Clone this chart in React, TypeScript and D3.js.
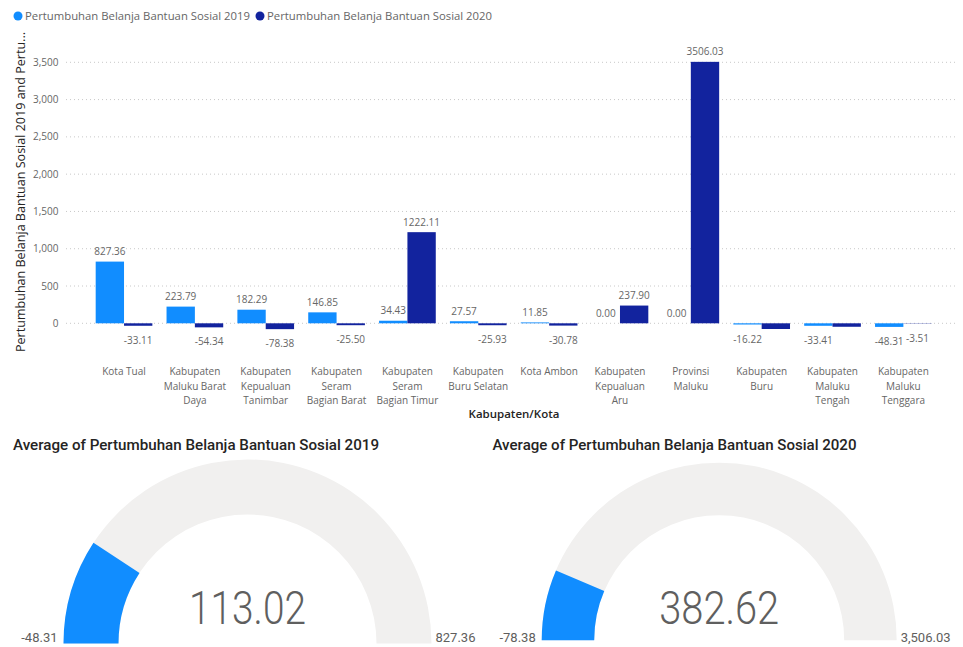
import React from "react";
import * as d3 from "d3";

const categories = [
  "Kota Tual",
  "Kabupaten Maluku Barat Daya",
  "Kabupaten Kepualuan Tanimbar",
  "Kabupaten Seram Bagian Barat",
  "Kabupaten Seram Bagian Timur",
  "Kabupaten Buru Selatan",
  "Kota Ambon",
  "Kabupaten Kepualuan Aru",
  "Provinsi Maluku",
  "Kabupaten Buru",
  "Kabupaten Maluku Tengah",
  "Kabupaten Maluku Tenggara",
];

const tickLabelLines = [
  ["Kota Tual"],
  ["Kabupaten", "Maluku Barat", "Daya"],
  ["Kabupaten", "Kepualuan", "Tanimbar"],
  ["Kabupaten", "Seram", "Bagian Barat"],
  ["Kabupaten", "Seram", "Bagian Timur"],
  ["Kabupaten", "Buru Selatan"],
  ["Kota Ambon"],
  ["Kabupaten", "Kepualuan", "Aru"],
  ["Provinsi", "Maluku"],
  ["Kabupaten", "Buru"],
  ["Kabupaten", "Maluku", "Tengah"],
  ["Kabupaten", "Maluku", "Tenggara"],
];

const values2019 = [827.36, 223.79, 182.29, 146.85, 34.43, 27.57, 11.85, 0.0, 0.0, -16.22, -33.41, -48.31];
const values2020 = [-33.11, -54.34, -78.38, -25.5, 1222.11, -25.93, -30.78, 237.9, 3506.03, -76.5, -46.55, -3.51];

const seriesNames = ["Pertumbuhan Belanja Bantuan Sosial 2019", "Pertumbuhan Belanja Bantuan Sosial 2020"];
const seriesColors = ["#118DFF", "#12239E"];
const yTicks = [0, 500, 1000, 1500, 2000, 2500, 3000, 3500];
// labels hidden by overlap in the original (category, series index)
const hiddenLabels = [
  { cat: "Kabupaten Buru", s: 1 },
  { cat: "Kabupaten Maluku Tengah", s: 1 },
];

const yAxisTitle = "Pertumbuhan Belanja Bantuan Sosial 2019 and Pertu...";
const xAxisTitle = "Kabupaten/Kota";
const gaugeTitles = [
  "Average of Pertumbuhan Belanja Bantuan Sosial 2019",
  "Average of Pertumbuhan Belanja Bantuan Sosial 2020",
];

const locale = d3.formatLocale({ decimal: ".", thousands: ",", grouping: [3], currency: ["", ""], minus: "-" });
const fmtComma = locale.format(",");
const fmt2 = locale.format(".2f");
const fmt2c = locale.format(",.2f");

const FONT = "'Open Sans', sans-serif";
const DIN = "Roboto, sans-serif";
const GRAY = "#666666";
const DARK = "#252423";

function Gauge({ cx, cy, rOuter, rInner, values, title, titleX, titleWidth, numWidth }) {
  const avg = d3.mean(values) as number;
  const mn = d3.min(values) as number;
  const mx = d3.max(values) as number;
  const ang = d3.scaleLinear().domain([mn, mx]).range([-Math.PI / 2, Math.PI / 2]);
  const arc = d3.arc().innerRadius(rInner).outerRadius(rOuter);
  const bg = arc({ startAngle: -Math.PI / 2, endAngle: Math.PI / 2 } as any) as string;
  const fg = arc({ startAngle: -Math.PI / 2, endAngle: ang(avg) } as any) as string;
  return (
    <g>
      <text
        x={titleX}
        y={450}
        fontFamily={DIN}
        fontWeight={500}
        fontSize={14.5}
        fill={DARK}
        textLength={titleWidth}
        lengthAdjust="spacingAndGlyphs"
      >
        {title}
      </text>
      <g transform={`translate(${cx},${cy})`}>
        <path d={bg} fill="#F1F0EF" />
        <path d={fg} fill="#118DFF" />
        <text
          x={0}
          y={624 - cy}
          textAnchor="middle"
          fontFamily={DIN}
          fontWeight={300}
          fontSize={47}
          fill="#5F5F5F"
          textLength={numWidth}
          lengthAdjust="spacingAndGlyphs"
        >
          {fmt2(avg)}
        </text>
        <text x={-rOuter - 6} y={642 - cy} textAnchor="end" fontFamily={DIN} fontSize={13} fill="#605E5C">
          {fmt2c(mn)}
        </text>
        <text x={rOuter + 4} y={642 - cy} textAnchor="start" fontFamily={DIN} fontSize={13} fill="#605E5C">
          {fmt2c(mx)}
        </text>
      </g>
    </g>
  );
}

export default function App() {
  const width = 963;
  const height = 647;

  const y = d3.scaleLinear().domain([0, 3500]).range([323.3, 62.3]);
  const x0 = d3.scaleBand().domain(categories).range([88.6, 938.8]).paddingInner(0.2).paddingOuter(0.1);
  const x1 = d3.scaleBand().domain(["0", "1"]).range([0, x0.bandwidth()]);

  const series = [values2019, values2020];

  return (
    <svg
      width={width}
      height={height}
      style={{ position: "absolute", left: 0, top: 0, background: "#fff" }}
    >
      {/* legend */}
      {seriesNames.map((name, i) => {
        const lx = i === 0 ? 18 : 260;
        return (
          <g key={name}>
            <circle cx={lx} cy={16} r={4.5} fill={seriesColors[i]} />
            <text
              x={lx + 7}
              y={19.8}
              fontFamily={FONT}
              fontSize={11.2}
              fill={GRAY}
              textLength={225}
              lengthAdjust="spacingAndGlyphs"
            >
              {name}
            </text>
          </g>
        );
      })}

      {/* y gridlines & ticks */}
      {yTicks.map((t) => (
        <g key={t}>
          <line
            x1={66}
            x2={955}
            y1={y(t)}
            y2={y(t)}
            stroke="#C8C8C8"
            strokeWidth={1}
            strokeDasharray="1,3"
          />
          <text x={58.5} y={y(t) + 3.6} textAnchor="end" fontFamily={FONT} fontSize={10} fill={GRAY}>
            {fmtComma(t)}
          </text>
        </g>
      ))}

      {/* y axis title */}
      <text
        transform={`translate(24.5,192) rotate(-90)`}
        textAnchor="middle"
        fontFamily={FONT}
        fontSize={12.3}
        fill={DARK}
        textLength={320}
        lengthAdjust="spacingAndGlyphs"
      >
        {yAxisTitle}
      </text>

      {/* bars */}
      {categories.map((c, ci) => (
        <g key={c} transform={`translate(${x0(c)},0)`}>
          {series.map((vals, si) => {
            const v = vals[ci];
            const top = Math.min(y(v), y(0));
            const h = Math.abs(y(v) - y(0));
            return (
              <rect
                key={si}
                x={x1(String(si))}
                y={top}
                width={x1.bandwidth()}
                height={h}
                fill={seriesColors[si]}
              />
            );
          })}
          {series.map((vals, si) => {
            const v = vals[ci];
            if (hiddenLabels.some((h) => h.cat === c && h.s === si)) return null;
            const cxl = (x1(String(si)) as number) + x1.bandwidth() / 2;
            const ly = v >= 0 ? y(v) - 6.5 : y(v) + 18;
            return (
              <text
                key={"l" + si}
                x={cxl}
                y={ly}
                textAnchor="middle"
                fontFamily={FONT}
                fontSize={10}
                fill={GRAY}
              >
                {fmt2(v)}
              </text>
            );
          })}
          {tickLabelLines[ci].map((line, li) => (
            <text
              key={"t" + li}
              x={x0.bandwidth() / 2}
              y={375 + li * 14.5}
              textAnchor="middle"
              fontFamily={FONT}
              fontSize={10}
              fill={GRAY}
            >
              {line}
            </text>
          ))}
        </g>
      ))}

      {/* x axis title */}
      <text x={514} y={417.5} textAnchor="middle" fontFamily={FONT} fontWeight={600} fontSize={11.5} fill={DARK}>
        {xAxisTitle}
      </text>

      {/* gauges */}
      <Gauge
        cx={247.5}
        cy={643.5}
        rOuter={184}
        rInner={129}
        values={values2019}
        title={gaugeTitles[0]}
        titleX={13}
        titleWidth={366}
        numWidth={117}
      />
      <Gauge
        cx={719.2}
        cy={640.2}
        rOuter={177.5}
        rInner={125}
        values={values2020}
        title={gaugeTitles[1]}
        titleX={492.5}
        titleWidth={364}
        numWidth={120}
      />
    </svg>
  );
}
